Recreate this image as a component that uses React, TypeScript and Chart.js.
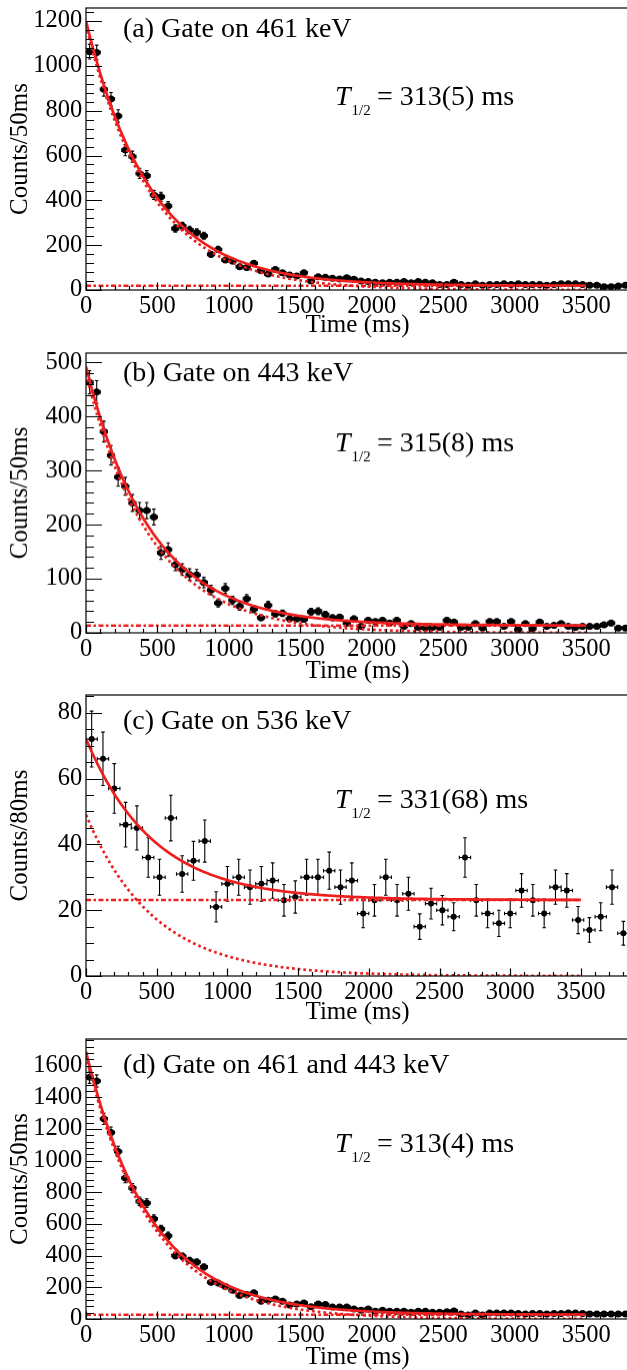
import React, { useEffect, useRef } from "react";
import { Chart, registerables } from "chart.js";

Chart.register(...registerables);

// ---------------- data ----------------
const TIME_TICKS = [0, 500, 1000, 1500, 2000, 2500, 3000, 3500];

// counts per bin (50 ms bins for a, b, d; 80 ms bins for c)
const A_COUNTS = [
  1063, 1060, 895, 852, 776, 624, 595, 520, 510, 424,
  416, 375, 274, 285, 268, 257, 242, 159, 181, 134,
  129, 104, 100, 119, 86, 71, 92, 77, 67, 62,
  77, 40, 59, 57, 52, 49, 55, 48, 40, 38,
  35, 32, 35, 35, 38, 32, 38, 35, 32, 24,
  24, 35, 24, 21, 28, 21, 24, 24, 28, 24,
  28, 24, 24, 24, 21, 24, 28, 28, 28, 24,
  21, 21, 15, 15, 18, 21,
];
const B_COUNTS = [
  463, 445, 372, 328, 288, 271, 240, 226, 226, 214,
  148, 154, 126, 117, 108, 107, 93, 79, 55, 82,
  60, 49, 63, 44, 28, 51, 35, 36, 26, 26,
  25, 39, 40, 34, 28, 29, 18, 26, 12, 23,
  21, 23, 18, 23, 12, 17, 10, 9, 10, 10,
  23, 20, 10, 10, 17, 9, 21, 21, 12, 21,
  6, 17, 8, 20, 12, 14, 17, 12, 10, 12,
  12, 12, 15, 18, 9, 9,
];
const C_COUNTS = [
  72, 66, 57, 46, 45, 36, 30, 48, 31, 35,
  41, 21, 28, 30, 27, 28, 29, 23, 24, 30,
  30, 32, 27, 29, 19, 23, 30, 23, 25, 15,
  22, 20, 18, 36, 23, 19, 16, 19, 26, 23,
  19, 27, 26, 17, 14, 18, 27, 13,
];
const D_COUNTS = [
  1527, 1503, 1264, 1178, 1058, 890, 827, 743, 732, 633,
  568, 526, 400, 396, 370, 360, 329, 232, 228, 206,
  181, 148, 154, 165, 112, 118, 127, 112, 88, 95,
  101, 78, 95, 91, 76, 76, 76, 63, 55, 63,
  49, 55, 49, 49, 49, 42, 49, 49, 42, 42,
  45, 51, 31, 25, 38, 25, 38, 38, 38, 38,
  34, 31, 34, 34, 31, 34, 34, 38, 38, 34,
  31, 31, 31, 31, 31, 31,
];

const A_YTICKS = [0, 200, 400, 600, 800, 1000, 1200];
const B_YTICKS = [0, 100, 200, 300, 400, 500];
const C_YTICKS = [0, 20, 40, 60, 80];
const D_YTICKS = [0, 200, 400, 600, 800, 1000, 1200, 1400, 1600];

// fit: amplitude * 2^(-t/halfLife) + background
const A_FIT = { amplitude: 1181, halfLife: 313, background: 19 };
const B_FIT = { amplitude: 478.5, halfLife: 315, background: 13.5 };
const C_FIT = { amplitude: 49, halfLife: 331, background: 23.1 };
const D_FIT = { amplitude: 1661, halfLife: 313, background: 27 };
const FIT_END = 3500;

const LABELS = [
  "(a) Gate on 461 keV",
  "(b) Gate on 443 keV",
  "(c) Gate on 536 keV",
  "(d) Gate on 461 and 443 keV",
];
const HALF_LIVES = ["313(5)", "315(8)", "331(68)", "313(4)"];
const Y_TITLES = ["Counts/50ms", "Counts/50ms", "Counts/80ms", "Counts/50ms"];
const BIN_WIDTHS = [50, 50, 80, 50];
const X_MAX = [3800, 3800, 3840, 3800];
const Y_MAX = [1258, 517, 85.4, 1768];
const Y_MINOR = [40, 20, 5, 40];

const PANELS = [
  { counts: A_COUNTS, yTicks: A_YTICKS, fit: A_FIT },
  { counts: B_COUNTS, yTicks: B_YTICKS, fit: B_FIT },
  { counts: C_COUNTS, yTicks: C_YTICKS, fit: C_FIT },
  { counts: D_COUNTS, yTicks: D_YTICKS, fit: D_FIT },
].map((p, i) => ({
  ...p,
  label: LABELS[i],
  halfLife: HALF_LIVES[i],
  yTitle: Y_TITLES[i],
  binWidth: BIN_WIDTHS[i],
  xMax: X_MAX[i],
  yMax: Y_MAX[i],
  yMinor: Y_MINOR[i],
}));

// ---------------- layout / style ----------------
const LAYOUT = [
  { frameTop: 8, frameBottom: 290, labelDy: 29, halfDy: 97, titleDy: 35.7, markerR: 3.5 },
  { frameTop: 353.3, frameBottom: 633.3, labelDy: 28.4, halfDy: 98.4, titleDy: 38.3, markerR: 3.5 },
  { frameTop: 695, frameBottom: 976, labelDy: 34.3, halfDy: 113.3, titleDy: 36.5, markerR: 3 },
  { frameTop: 1039, frameBottom: 1319.4, labelDy: 34.3, halfDy: 112.7, titleDy: 38, markerR: 3.5 },
];
const CANVAS_W = 633;
const PAD_TOP = 8;
const Y_AXIS_W = 86;
const X_AXIS_H = 55;
const SERIF = '"Liberation Serif", "Times New Roman", serif';
const RED = "#ee1f1f";
const TICK_FONT = 24.5;
const TITLE_FONT = 25;
const NOTE_FONT = 28;

function Panel({ spec, lay }: { spec: any; lay: any }) {
  const ref = useRef<HTMLCanvasElement | null>(null);
  const frameH = lay.frameBottom - lay.frameTop;
  const canvasH = PAD_TOP + frameH + X_AXIS_H;

  useEffect(() => {
    const canvas = ref.current!;
    const bins = spec.counts.map((c: number, i: number) => ({
      x: (i + 0.5) * spec.binWidth,
      y: c,
    }));
    const samples: number[] = [];
    for (let t = 0; t <= FIT_END; t += 10) samples.push(t);
    const decay = (t: number) =>
      spec.fit.amplitude * Math.pow(2, -t / spec.fit.halfLife);
    const total = samples.map((t) => ({ x: t, y: decay(t) + spec.fit.background }));
    const comp = samples.map((t) => ({ x: t, y: decay(t) }));
    const bg = [
      { x: 0, y: spec.fit.background },
      { x: FIT_END, y: spec.fit.background },
    ];

    const errorBars = {
      id: "errorBars",
      beforeDatasetsDraw(chart: any) {
        const { ctx, chartArea: a, scales } = chart;
        const xs = scales.x, ys = scales.y;
        ctx.save();
        ctx.beginPath();
        ctx.rect(a.left, a.top, a.right - a.left, a.bottom - a.top);
        ctx.clip();
        ctx.strokeStyle = "#000";
        ctx.lineWidth = 1.1;
        const cap = 1.8;
        bins.forEach((p: any) => {
          const err = Math.sqrt(p.y);
          const px = xs.getPixelForValue(p.x);
          const py = ys.getPixelForValue(p.y);
          const y1 = ys.getPixelForValue(p.y + err);
          const y2 = ys.getPixelForValue(p.y - err);
          const x1 = xs.getPixelForValue(p.x - spec.binWidth / 2);
          const x2 = xs.getPixelForValue(p.x + spec.binWidth / 2);
          ctx.beginPath();
          ctx.moveTo(px, y1);
          ctx.lineTo(px, y2);
          ctx.moveTo(x1, py);
          ctx.lineTo(x2, py);
          ctx.moveTo(px - cap, y1);
          ctx.lineTo(px + cap, y1);
          ctx.moveTo(px - cap, y2);
          ctx.lineTo(px + cap, y2);
          ctx.moveTo(x1, py - cap);
          ctx.lineTo(x1, py + cap);
          ctx.moveTo(x2, py - cap);
          ctx.lineTo(x2, py + cap);
          ctx.stroke();
        });
        ctx.restore();
      },
    };

    const frameTicks = {
      id: "frameTicks",
      afterDraw(chart: any) {
        const { ctx, chartArea: a, scales } = chart;
        const xs = scales.x, ys = scales.y;
        ctx.save();
        ctx.strokeStyle = "#000";
        ctx.lineWidth = 1.2;
        ctx.strokeRect(a.left, a.top, a.right - a.left, a.bottom - a.top);
        ctx.beginPath();
        for (let v = 0; v <= spec.yMax + 1e-9; v += spec.yMinor) {
          const py = Math.round(ys.getPixelForValue(v)) + 0.5;
          const major = spec.yTicks.some((t: number) => Math.abs(t - v) < 1e-6);
          const len = major ? 16 : 8;
          ctx.moveTo(a.left, py);
          ctx.lineTo(a.left + len, py);
        }
        for (let v = 0; v <= spec.xMax + 1e-9; v += 100) {
          const px = Math.round(xs.getPixelForValue(v)) + 0.5;
          const major = v % 500 === 0;
          const len = major ? 7.5 : 4;
          ctx.moveTo(px, a.bottom);
          ctx.lineTo(px, a.bottom - len);
        }
        ctx.stroke();
        ctx.restore();
      },
    };

    const notes = {
      id: "notes",
      afterDraw(chart: any) {
        const { ctx } = chart;
        ctx.save();
        ctx.fillStyle = "#000";
        ctx.textBaseline = "alphabetic";
        ctx.textAlign = "left";
        ctx.font = `${NOTE_FONT}px ${SERIF}`;
        ctx.fillText(spec.label, 123, PAD_TOP + lay.labelDy);
        const by = PAD_TOP + lay.halfDy;
        ctx.font = `italic ${NOTE_FONT}px ${SERIF}`;
        ctx.fillText("T", 335, by);
        ctx.font = `15px ${SERIF}`;
        ctx.fillText("1/2", 351.5, by + 10);
        ctx.font = `${NOTE_FONT}px ${SERIF}`;
        ctx.fillText(`= ${spec.halfLife} ms`, 377, by);
        ctx.restore();
      },
    };

    const tickFont = { family: SERIF, size: TICK_FONT, lineHeight: 1 };
    const titleFont = { family: SERIF, size: TITLE_FONT, lineHeight: 1 };

    const chart = new Chart(canvas, {
      type: "scatter",
      data: {
        datasets: [
          {
            type: "line",
            data: total,
            borderColor: RED,
            borderWidth: 2.7,
            pointRadius: 0,
            fill: false,
            order: 0,
          },
          {
            type: "line",
            data: comp,
            borderColor: RED,
            borderWidth: 2.7,
            borderDash: [2.7, 3],
            pointRadius: 0,
            fill: false,
            order: 1,
          },
          {
            type: "line",
            data: bg,
            borderColor: RED,
            borderWidth: 2.4,
            borderDash: [5, 2.5, 2.5, 2.5],
            pointRadius: 0,
            fill: false,
            order: 2,
          },
          {
            type: "scatter",
            data: bins,
            pointRadius: lay.markerR,
            pointBackgroundColor: "#000",
            pointBorderWidth: 0,
            order: 3,
          },
        ],
      } as any,
      options: {
        animation: false,
        responsive: false,
        devicePixelRatio: 1,
        layout: { padding: { top: PAD_TOP, left: 0, right: 2, bottom: 0 } },
        plugins: {
          legend: { display: false },
          tooltip: { enabled: false },
        },
        scales: {
          x: {
            type: "linear",
            min: 0,
            max: spec.xMax,
            afterBuildTicks: (s: any) => {
              s.ticks = TIME_TICKS.map((v) => ({ value: v }));
            },
            afterFit: (s: any) => {
              s.height = X_AXIS_H;
              s.paddingLeft = 0;
              s.paddingRight = 0;
              s.paddingTop = 0;
              s.paddingBottom = 0;
            },
            grid: { display: false, drawTicks: false },
            border: { display: false },
            ticks: {
              font: tickFont,
              color: "#000",
              padding: 4.2,
              autoSkip: false,
              maxRotation: 0,
              minRotation: 0,
              callback: (v: any) => String(v),
            },
            title: {
              display: true,
              text: "Time (ms)",
              font: titleFont,
              color: "#000",
              padding: { top: 0, bottom: 42.5 - lay.titleDy },
            },
          },
          y: {
            type: "linear",
            min: 0,
            max: spec.yMax,
            afterBuildTicks: (s: any) => {
              s.ticks = spec.yTicks.map((v: number) => ({ value: v }));
            },
            afterFit: (s: any) => {
              s.width = Y_AXIS_W;
              s.paddingLeft = 0;
              s.paddingRight = 0;
              s.paddingTop = 0;
              s.paddingBottom = 0;
            },
            grid: { display: false, drawTicks: false },
            border: { display: false },
            ticks: {
              font: tickFont,
              color: "#000",
              padding: 3.7,
              autoSkip: false,
              callback: (v: any) => String(v),
            },
            title: {
              display: true,
              text: spec.yTitle,
              font: titleFont,
              color: "#000",
              padding: { top: 7.5, bottom: 0 },
            },
          },
        },
      } as any,
      plugins: [errorBars, frameTicks, notes],
    });
    return () => chart.destroy();
  }, []);

  return (
    <canvas
      ref={ref}
      width={CANVAS_W}
      height={canvasH}
      style={{
        position: "absolute",
        left: 0,
        top: lay.frameTop - PAD_TOP,
        width: CANVAS_W,
        height: canvasH,
      }}
    />
  );
}

export default function App() {
  return (
    <div
      style={{
        position: "absolute",
        left: 0,
        top: 0,
        width: 627,
        height: 1370,
        overflow: "hidden",
        background: "#fff",
      }}
    >
      {PANELS.map((spec, i) => (
        <Panel key={i} spec={spec} lay={LAYOUT[i]} />
      ))}
    </div>
  );
}
